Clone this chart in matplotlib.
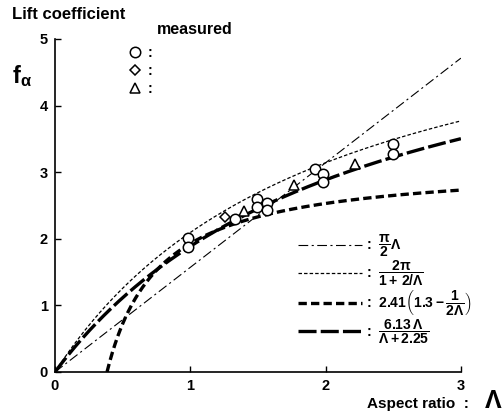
import numpy as np
import matplotlib
matplotlib.use("Agg")
import matplotlib.pyplot as plt

plt.rcParams['font.family'] = ['Liberation Sans', 'DejaVu Sans']
plt.rcParams['font.weight'] = 'bold'
plt.rcParams['mathtext.fontset'] = 'custom'
plt.rcParams['mathtext.rm'] = 'Liberation Sans:bold'
plt.rcParams['mathtext.it'] = 'Liberation Sans:bold'
plt.rcParams['mathtext.bf'] = 'Liberation Sans:bold'
plt.rcParams['lines.scale_dashes'] = False

# measured points (aspect ratio, lift coefficient)
circ_ar = [0.98, 0.98, 1.33, 1.49, 1.49, 1.57, 1.57, 1.92, 1.98, 1.98, 2.5, 2.5]
circ_f = [2.01, 1.87, 2.30, 2.60, 2.47, 2.53, 2.43, 3.05, 2.97, 2.86, 3.43, 3.28]
diam_ar = [1.26]
diam_f = [2.32]
tri_ar = [1.40, 1.77, 2.22]
tri_f = [2.42, 2.81, 3.12]

# constants of the theoretical curves, as written in the legend
k_a = 2.41
k_b = 1.3
k_c = 6.13
k_d = 2.25

lam = np.linspace(0.0, 3.0, 400)
lam_p = np.linspace(0.005, 3.0, 400)
lam_c = np.linspace(1 / (2 * k_b), 3.0, 400)

fig = plt.figure(figsize=(5.03, 4.16), dpi=100)
ax = fig.add_axes([0.1093, 0.1058, 0.807, 0.8005])

l1, = ax.plot(lam, np.pi / 2 * lam, color='black', lw=0.8, dashes=(7, 2.5, 1.5, 2.5))
l2, = ax.plot(lam_p, 2 * np.pi / (1 + 2 / lam_p), color='black', lw=0.9, dashes=(2.5, 1.5))
l3, = ax.plot(lam_c, k_a * (k_b - 1 / (2 * lam_c)), color='black', lw=2.4, dashes=(6, 3))
l4, = ax.plot(lam, k_c * lam / (lam + k_d), color='black', lw=2.4, dashes=(13, 3))

mk = dict(ls='none', mfc='white', mec='black', mew=1.1, ms=7.5)
p1, = ax.plot(circ_ar, circ_f, marker='o', **mk)
p2, = ax.plot(diam_ar, diam_f, marker='D', **dict(mk, ms=5.5))
p3, = ax.plot(tri_ar, tri_f, marker='^', **mk)

ax.set_xlim(0, 3)
ax.set_ylim(0, 5)
ax.set_xticks([0, 1, 2, 3])
ax.set_yticks([0, 1, 2, 3, 4, 5])
ax.tick_params(direction='in', length=4, width=1, labelsize=10.5)
ax.tick_params(axis='y', pad=5)
ax.tick_params(axis='x', pad=5)
for t in ax.get_xticklabels() + ax.get_yticklabels():
    t.set_fontweight('bold')
for s in ['top', 'right']:
    ax.spines[s].set_visible(False)
for s in ['left', 'bottom']:
    ax.spines[s].set_linewidth(1.2)

leg1 = ax.legend([p1, p2, p3], [':', ':', ':'], loc='upper left',
                 bbox_to_anchor=(0.15, 1.017), frameon=False, handlelength=1.0,
                 handletextpad=0.4, labelspacing=0.3, fontsize=10)
ax.add_artist(leg1)
ax.text(0.25, 1.015, 'measured', transform=ax.transAxes, fontsize=11.5, fontweight='bold')

labels = [r':  $\dfrac{\pi}{2}\Lambda$',
          r':  $\dfrac{2\pi}{1+\,2/\Lambda}$',
          r':  $2.41\left(1.3-\dfrac{1}{2\Lambda}\right)$',
          r':  $\dfrac{6.13\,\Lambda}{\Lambda+2.25}$']
ax.legend([l1, l2, l3, l4], labels, loc='lower left', bbox_to_anchor=(0.567, 0.042),
          frameon=False, handlelength=4.6, handletextpad=0.3, labelspacing=0.0,
          fontsize=10)

fig.text(0.024, 0.955, 'Lift coefficient', fontsize=12, fontweight='bold')
fig.text(0.024, 0.8, r'f$_\alpha$', fontsize=17, fontweight='bold')
fig.text(0.73, 0.02, 'Aspect ratio  :', fontsize=11, fontweight='bold')
fig.text(0.963, 0.02, r'$\Lambda$', fontsize=18, fontweight='bold')

fig.savefig('out.png', dpi=100)
